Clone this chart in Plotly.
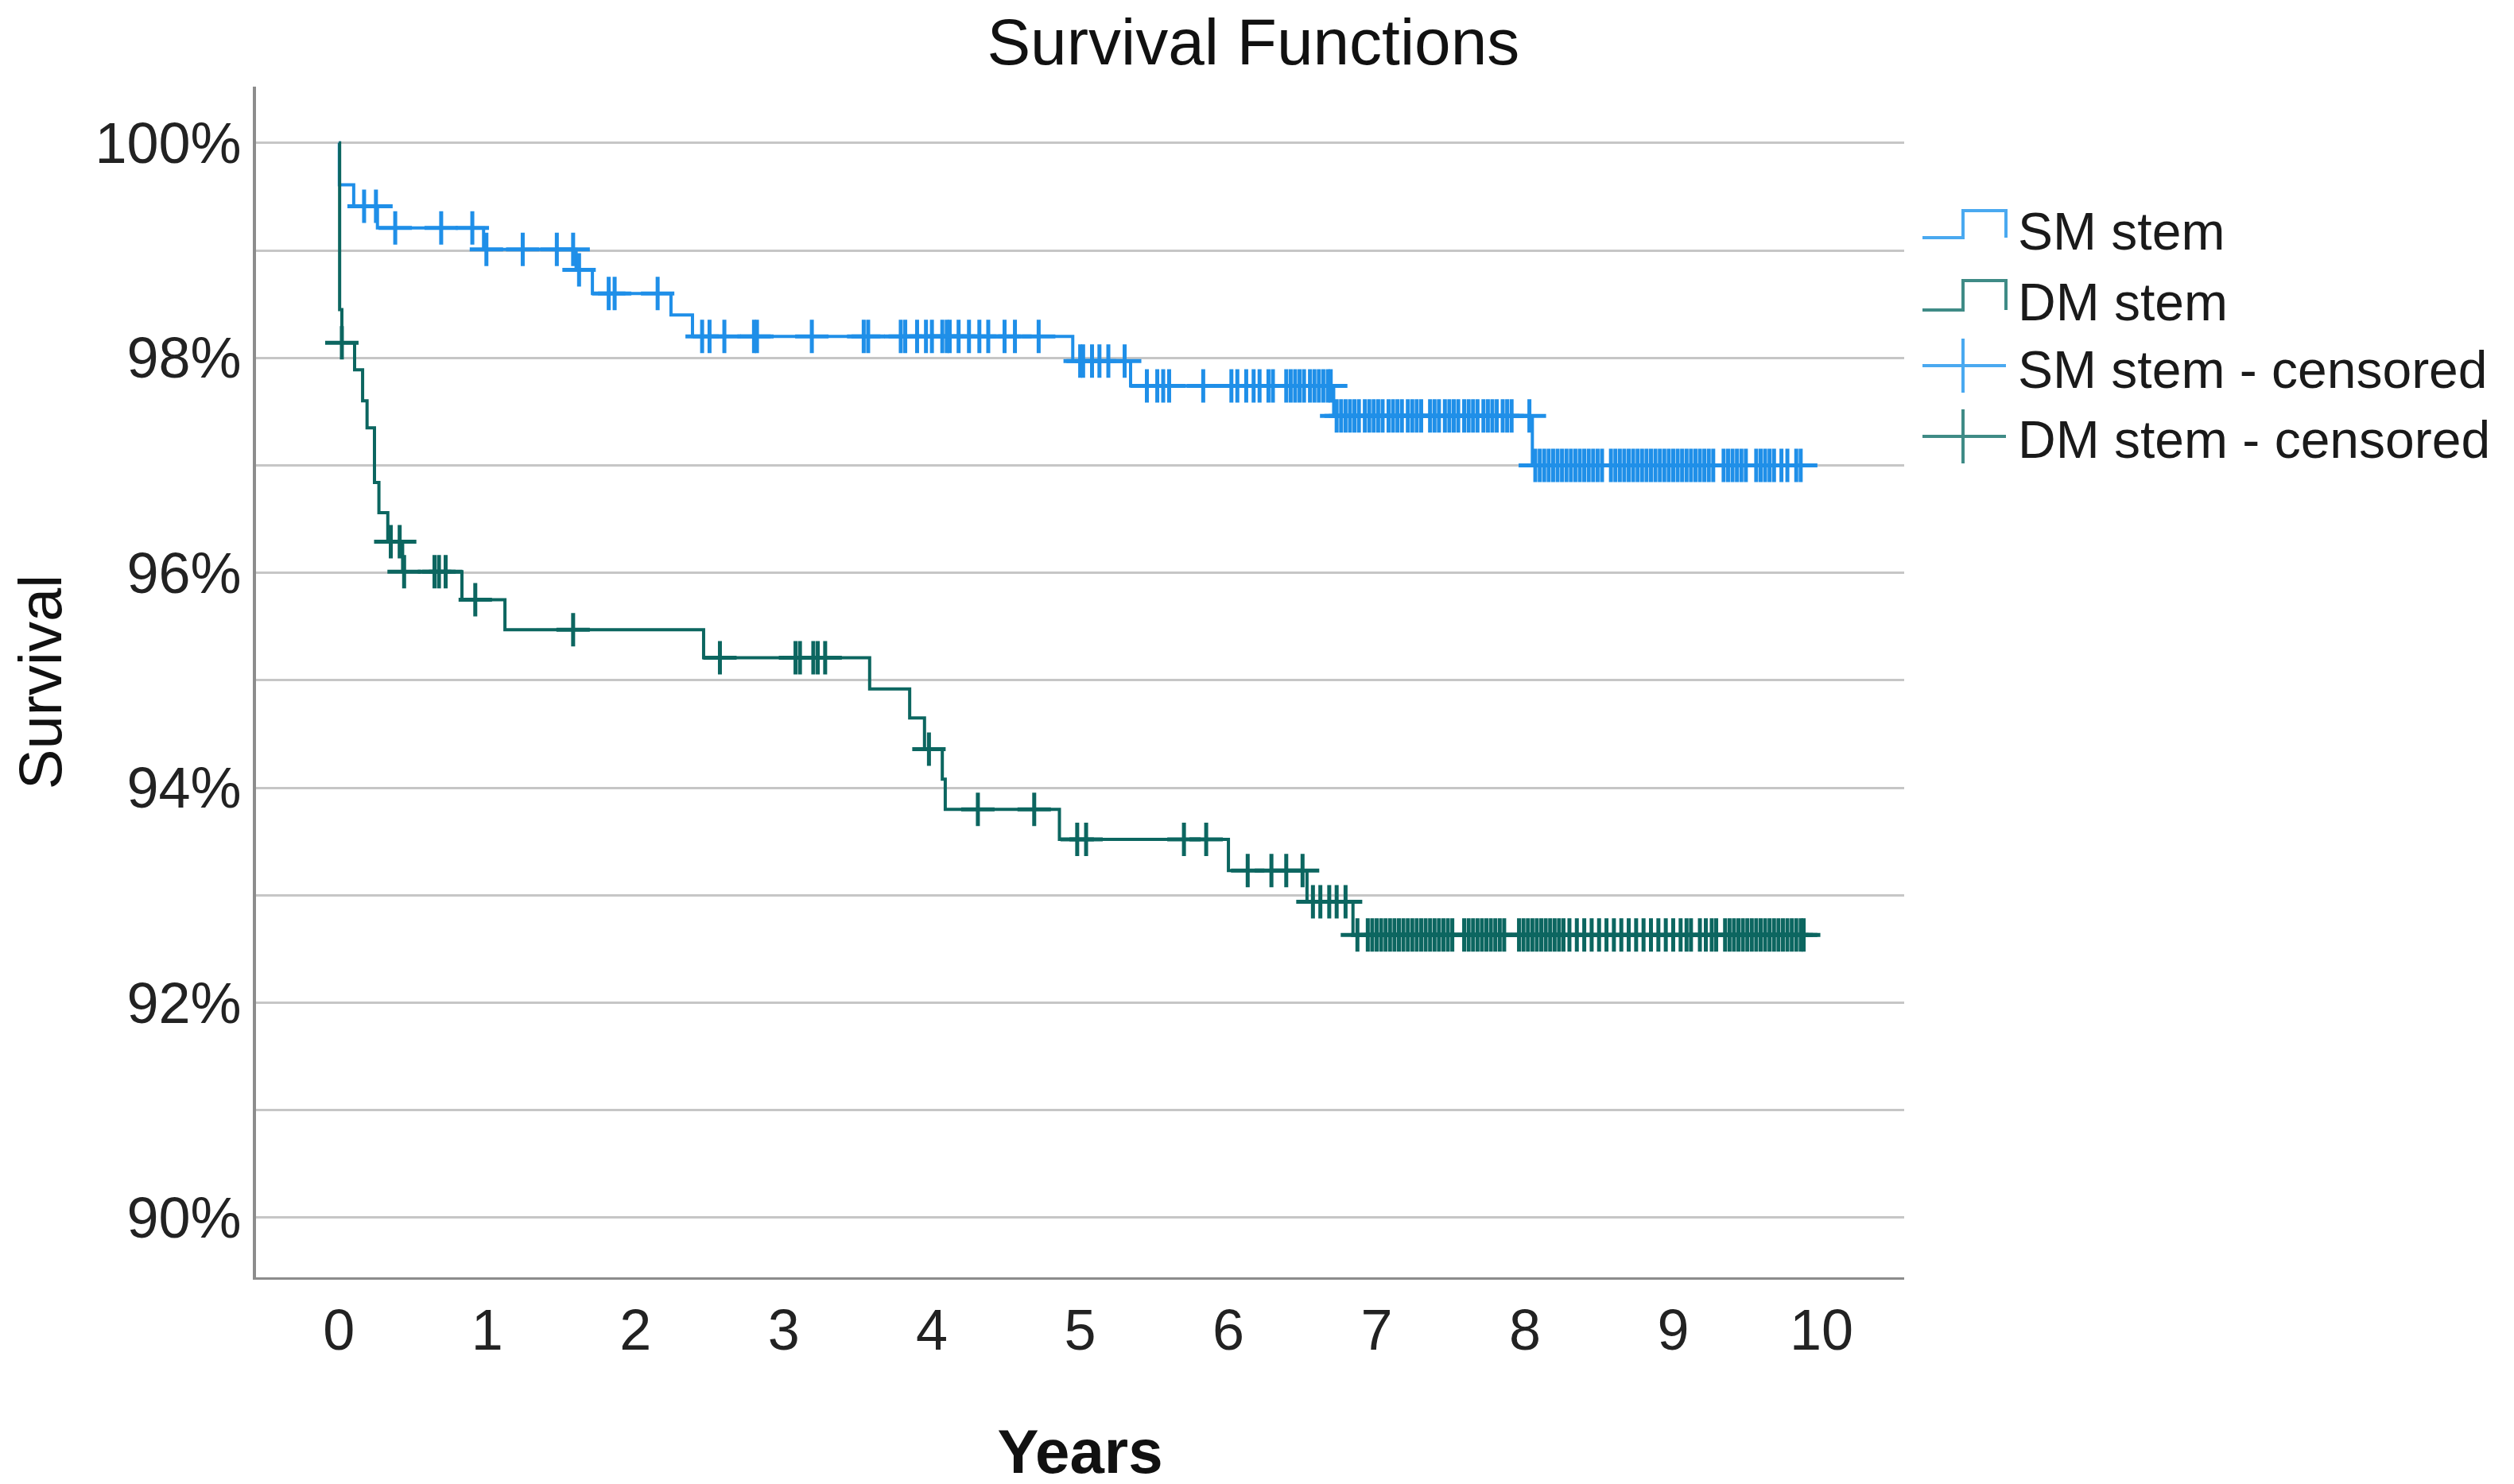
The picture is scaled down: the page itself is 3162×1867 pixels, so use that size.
import plotly.graph_objects as go
import bisect

# ---------------- data ----------------
year_ticks = list(range(0, 11))
survival_ticks = [90, 91, 92, 93, 94, 95, 96, 97, 98, 99, 100]
survival_tick_text = ["90%", "", "92%", "", "94%", "", "96%", "", "98%", "", "100%"]

# SM stem: Kaplan-Meier step function (event times in years, survival %)
sm_event_years = [0.0, 0.003, 0.10, 0.26, 0.976, 1.60, 1.71, 2.24, 2.385, 4.95, 5.34, 6.71, 8.05]
sm_survival = [100.0, 99.61, 99.41, 99.21, 99.01, 98.82, 98.60, 98.40, 98.20, 97.97, 97.74, 97.46, 97.00]
sm_last_year = 9.86
sm_censored_years = [
    0.17, 0.25, 0.38, 0.69, 0.90, 0.995, 1.24, 1.47, 1.58, 1.62, 1.82, 1.86, 2.15,
    2.45, 2.50, 2.60, 2.80, 2.82, 3.19, 3.54, 3.57, 3.79, 3.82, 3.90, 3.96, 4.00,
    4.07, 4.10, 4.12, 4.18, 4.25, 4.32, 4.38, 4.49, 4.56, 4.72,
    5.00, 5.02, 5.08, 5.13, 5.19, 5.30,
    5.45, 5.52, 5.56, 5.60, 5.83, 6.02, 6.06, 6.12, 6.17, 6.21, 6.27, 6.30, 6.39,
    6.42, 6.45, 6.48, 6.51, 6.55, 6.58, 6.61, 6.64, 6.67, 6.69,
    6.73, 6.76, 6.79, 6.82, 6.85, 6.88, 6.92, 6.95, 6.98, 7.01, 7.04, 7.08, 7.11,
    7.14, 7.17, 7.21, 7.24, 7.27, 7.30, 7.36, 7.39, 7.42, 7.46, 7.49, 7.52, 7.55,
    7.59, 7.62, 7.65, 7.68, 7.72, 7.75, 7.78, 7.81, 7.85, 7.88, 7.91, 8.03,
    8.07, 8.10, 8.13, 8.16, 8.19, 8.22, 8.25, 8.28, 8.31, 8.34, 8.37, 8.40, 8.43,
    8.46, 8.49, 8.52, 8.58, 8.61, 8.64, 8.67, 8.70, 8.73, 8.76, 8.79, 8.82, 8.85,
    8.88, 8.91, 8.94, 8.97, 9.00, 9.03, 9.06, 9.09, 9.12, 9.15, 9.18, 9.21, 9.24,
    9.27, 9.34, 9.37, 9.40, 9.43, 9.46, 9.49, 9.56, 9.59, 9.62, 9.65, 9.68, 9.73,
    9.77, 9.83, 9.86,
]

# DM stem
dm_event_years = [0.0, 0.005, 0.02, 0.106, 0.16, 0.19, 0.24, 0.27, 0.33, 0.43, 0.83, 1.12,
                  2.46, 3.58, 3.85, 3.95, 4.07, 4.09, 4.86, 6.00, 6.53, 6.84]
dm_survival = [100.0, 98.45, 98.14, 97.89, 97.60, 97.35, 96.84, 96.56, 96.29, 96.01, 95.75, 95.47,
               95.21, 94.92, 94.65, 94.36, 94.08, 93.80, 93.52, 93.23, 92.94, 92.63]
dm_last_year = 9.88
dm_censored_years = [
    0.02, 0.35, 0.41, 0.44, 0.645, 0.675, 0.72, 0.92, 1.58, 2.57, 3.08, 3.11, 3.20,
    3.23, 3.28, 3.98, 4.31, 4.69, 4.98, 5.04, 5.70, 5.85, 6.13, 6.29, 6.39, 6.50,
    6.57, 6.62, 6.68, 6.73, 6.79,
    6.87, 6.94, 6.97, 7.00, 7.03, 7.06, 7.09, 7.12, 7.15, 7.18, 7.21, 7.24, 7.27,
    7.30, 7.33, 7.36, 7.39, 7.42, 7.45, 7.48, 7.51, 7.59, 7.62, 7.65, 7.68, 7.71,
    7.74, 7.77, 7.80, 7.83, 7.86, 7.96, 7.99, 8.02, 8.05, 8.08, 8.11, 8.14, 8.17,
    8.20, 8.23, 8.26, 8.30, 8.35, 8.40, 8.45, 8.50, 8.55, 8.60, 8.65, 8.70, 8.75,
    8.80, 8.85, 8.90, 8.95, 9.00, 9.05, 9.09, 9.12, 9.18, 9.22, 9.26, 9.29, 9.35,
    9.38, 9.41, 9.44, 9.47, 9.50, 9.53, 9.56, 9.59, 9.62, 9.65, 9.68, 9.71, 9.74,
    9.77, 9.80, 9.83, 9.86, 9.88,
]

series_names = ["SM stem", "DM stem", "SM stem - censored", "DM stem - censored"]

# ---------------- styles ----------------
SM_COLOR = "#1f8fe8"
DM_COLOR = "#0c6660"
SM_LEGEND_COLOR = "#4aa9f0"
DM_LEGEND_COLOR = "#3f8b86"
GRID_COLOR = "#c6c6c6"
AXIS_COLOR = "#8c8c8c"
FONT = "Liberation Sans, Arial, sans-serif"

W, H = 3162, 1867
PLOT_L, PLOT_R, PLOT_T, PLOT_B = 314, 2387, 101, 1599


def level_at(t, times, levels):
    i = bisect.bisect_right(times, t) - 1
    return levels[max(i, 0)]


def px_x(fx):
    return (fx - PLOT_L) / (PLOT_R - PLOT_L)


def px_y(fy):
    return (PLOT_B - fy) / (PLOT_B - PLOT_T)


fig = go.Figure()


def add_group(name, times, levels, last, cens, color):
    fig.add_trace(go.Scatter(
        x=times + [last], y=levels + [levels[-1]], mode="lines", name=name,
        line=dict(color=color, width=4, shape="hv"), showlegend=False,
        hoverinfo="skip"))
    fig.add_trace(go.Scatter(
        x=cens, y=[level_at(t, times, levels) for t in cens], mode="markers",
        name=name + " - censored", showlegend=False,
        marker=dict(symbol="cross-thin", size=30, color=color,
                    line=dict(color=color, width=5))))


add_group(series_names[0], sm_event_years, sm_survival, sm_last_year, sm_censored_years, SM_COLOR)
add_group(series_names[1], dm_event_years, dm_survival, dm_last_year, dm_censored_years, DM_COLOR)

# ---------------- manual legend ----------------
shapes = []
annotations = []
LX0, LXM, LX1 = 2410, 2461, 2515
TEXT_X = 2528
legend_rows = [
    ("step", SM_LEGEND_COLOR, 291, 257, 283),
    ("step", DM_LEGEND_COLOR, 382, 345, 372),
    ("cross", SM_LEGEND_COLOR, 452, 34, 457),
    ("cross", DM_LEGEND_COLOR, 541, 34, 545),
]
for (kind, color, ya, yb, ty), label in zip(legend_rows, series_names):
    if kind == "step":
        path = (f"M {px_x(LX0)} {px_y(ya)} L {px_x(LXM)} {px_y(ya)} L {px_x(LXM)} {px_y(yb)} "
                f"L {px_x(LX1)} {px_y(yb)} L {px_x(LX1)} {px_y(ya)}")
        shapes.append(dict(type="path", xref="paper", yref="paper", path=path,
                           line=dict(color=color, width=4)))
    else:
        shapes.append(dict(type="line", xref="paper", yref="paper",
                           x0=px_x(LX0), x1=px_x(LX1), y0=px_y(ya), y1=px_y(ya),
                           line=dict(color=color, width=4)))
        shapes.append(dict(type="line", xref="paper", yref="paper",
                           x0=px_x(LXM), x1=px_x(LXM), y0=px_y(ya - yb), y1=px_y(ya + yb),
                           line=dict(color=color, width=4)))
    annotations.append(dict(text=label, xref="paper", yref="paper", x=px_x(TEXT_X),
                            y=px_y(ty), xanchor="left", yanchor="middle", showarrow=False,
                            font=dict(family=FONT, size=66, color="#1a1a1a")))

fig.update_layout(
    width=W, height=H,
    margin=dict(l=PLOT_L, r=W - PLOT_R, t=PLOT_T, b=H - PLOT_B, autoexpand=False),
    paper_bgcolor="white", plot_bgcolor="white",
    title=dict(text="Survival Functions", x=0.496, xref="container", xanchor="center",
               y=1 - 44 / H, yref="container", yanchor="middle",
               font=dict(family=FONT, size=82, color="#111111")),
    font=dict(family=FONT, color="#222222"),
    shapes=shapes, annotations=annotations, showlegend=False,
    xaxis=dict(range=[-0.559, 10.558], tickvals=year_ticks, ticks="", showgrid=False,
               zeroline=False, showline=True, linecolor=AXIS_COLOR, linewidth=3,
               ticklabelstandoff=2, tickfont=dict(family=FONT, size=72, color="#222222"),
               title=dict(text="<b>Years</b>", standoff=86,
                          font=dict(family=FONT, size=78, color="#111111"))),
    yaxis=dict(range=[89.445, 100.524], tickvals=survival_ticks, ticktext=survival_tick_text,
               ticks="", showgrid=True, gridcolor=GRID_COLOR, gridwidth=3, zeroline=False,
               showline=True, linecolor=AXIS_COLOR, linewidth=4, ticklabelstandoff=0,
               tickfont=dict(family=FONT, size=72, color="#222222"),
               title=dict(text="Survival", standoff=36,
                          font=dict(family=FONT, size=76, color="#111111"))),
)

fig.write_html("out.html")
